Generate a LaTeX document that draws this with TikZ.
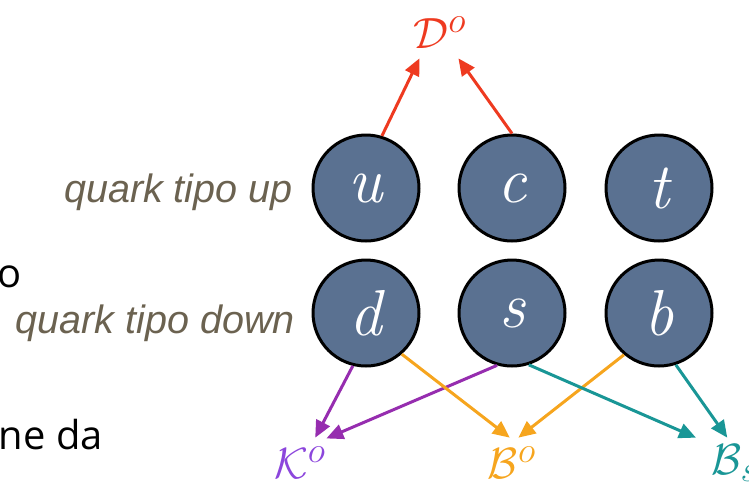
\documentclass[tikz,border=0pt]{standalone}
\usepackage{fontspec}
\usepackage{tikz}
\usetikzlibrary{arrows.meta}
\newfontfamily\labelfont{Liberation Sans}
\newfontfamily\slidefont{Open Sans}
\definecolor{quarkblue}{RGB}{90,113,145}
\definecolor{labelgray}{RGB}{107,98,80}
\definecolor{dred}{RGB}{238,58,32}
\definecolor{kpurple}{RGB}{150,45,175}
\definecolor{kviolet}{RGB}{140,70,220}
\definecolor{borange}{RGB}{246,165,30}
\definecolor{bteal}{RGB}{25,150,150}

\begin{document}
\begin{tikzpicture}[x=0.02cm, y=-0.02cm,
  quark/.style={draw=black, circle, line width=0.06cm, fill=quarkblue,
                minimum size=2.12cm, text=white,
                font=\fontsize{37}{37}\selectfont\itshape},
  meson/.style={minimum width=1cm, minimum height=1cm, inner sep=0pt, font=\Huge},
  side/.style={anchor=base east, inner sep=0pt, text=labelgray,
               font=\labelfont\fontsize{22.5}{22.5}\selectfont\itshape},
  slide/.style={anchor=base east, inner sep=0pt,
                font=\slidefont\fontsize{22.7}{22.7}\selectfont},
  decay/.style={-{Triangle[length=0.34cm,width=0.3cm]}, line width=0.06cm}
]
\useasboundingbox (0,0) rectangle (749,488);
\foreach \name/\x/\y in {u/366/188, c/512/188, t/659/188,
                         d/366/313, s/512/313, b/659/313}
  \node[quark] (\name) at (\x,\y) {\name};
\node[meson, text=dred]    (D)  at (440,33)  {$\mathcal{D}^o$};
\node[meson, text=kviolet] (K)  at (300,463) {$\mathcal{K}^o$};
\node[meson, text=borange] (B)  at (512,463) {$\mathcal{B}^o$};
\node[meson, text=bteal, minimum width=2cm] (Bs) at (735,463) {$\mathcal{B}_s$};
\node[side]  (up)    at (293,202) {quark tipo up};
\node[side]  (down)  at (295,333) {quark tipo down};
\node[slide] (frag1) at (22,287)  {o};
\node[slide] (frag2) at (103,449) {ne da};
\foreach \src/\dst/\col in {u.73/D.231/dred, c.north/D.306/dred,
                            d.256/K.59/kpurple, s.254/K.43/kpurple,
                            d.311/B.95/borange, b.230/B.76/borange,
                            s.288/Bs.147/bteal, b.288/Bs.107/bteal}
  \draw[decay, \col] (\src) -- (\dst);
\end{tikzpicture}
\end{document}
